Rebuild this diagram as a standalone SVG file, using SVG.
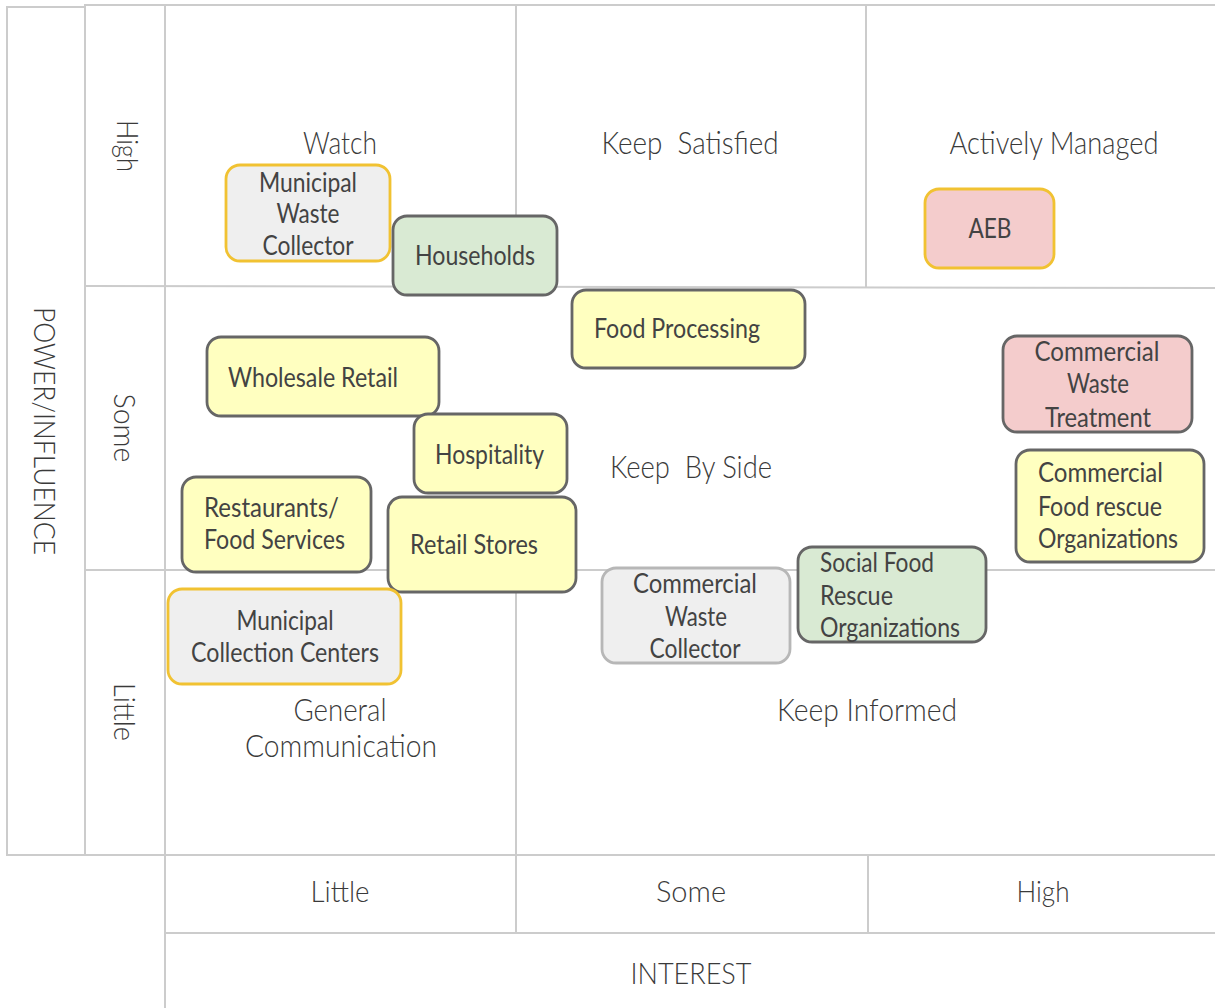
<svg xmlns="http://www.w3.org/2000/svg" width="1215" height="1008" viewBox="0 0 1215 1008">
<style>
.grid{fill:none;stroke:#cccccc;stroke-width:2}
.lbl{font-family:Lato,"Open Sans",sans-serif;font-weight:300;font-size:31px;fill:#3a3a3a;text-anchor:middle}
.ax{font-family:Lato,"Open Sans",sans-serif;font-weight:300;font-size:30px;fill:#3a3a3a;text-anchor:middle}
.nt{font-family:Lato,"Open Sans",sans-serif;font-weight:400;font-size:26px;fill:#434343}
.c{text-anchor:middle}
.box{stroke-width:2.8}
.y{fill:#ffffc0;stroke:#666666}
.g{fill:#d9ead3;stroke:#666666}
.p{fill:#f4cccc;stroke:#666666}
.gy{fill:#efefef;stroke:#f1c232}
.py{fill:#f4cccc;stroke:#f1c232}
.gl{fill:#efefef;stroke:#b7b7b7}
</style>
<rect width="1215" height="1008" fill="#ffffff"/>
<g id="grid">
<rect class="grid" x="7" y="7" width="78" height="848"/>
<rect class="grid" x="85" y="5" width="80" height="850"/>
<rect class="grid" x="165" y="5" width="1052" height="850"/>
<line class="grid" x1="85" y1="286" x2="1215" y2="288"/>
<line class="grid" x1="85" y1="570" x2="1215" y2="570"/>
<line class="grid" x1="516" y1="5" x2="516" y2="288"/>
<line class="grid" x1="866" y1="5" x2="866" y2="288"/>
<line class="grid" x1="516" y1="570" x2="516" y2="855"/>
<line class="grid" x1="165" y1="855" x2="165" y2="1008"/>
<line class="grid" x1="165" y1="933" x2="1215" y2="933"/>
<line class="grid" x1="516" y1="855" x2="516" y2="933"/>
<line class="grid" x1="868" y1="855" x2="868" y2="933"/>
</g>
<g id="labels">
<text class="lbl" x="340" y="154" textLength="74" lengthAdjust="spacingAndGlyphs">Watch</text>
<text class="lbl" x="690" y="154" textLength="177" lengthAdjust="spacingAndGlyphs" xml:space="preserve">Keep  Satisfied</text>
<text class="lbl" x="1054" y="154" textLength="209" lengthAdjust="spacingAndGlyphs">Actively Managed</text>
<text class="lbl" x="691" y="478" textLength="162" lengthAdjust="spacingAndGlyphs" xml:space="preserve">Keep  By Side</text>
<text class="lbl" x="340" y="721" textLength="93" lengthAdjust="spacingAndGlyphs">General</text>
<text class="lbl" x="341" y="757" textLength="192" lengthAdjust="spacingAndGlyphs">Communication</text>
<text class="lbl" x="867" y="721" textLength="180" lengthAdjust="spacingAndGlyphs">Keep Informed</text>
<text class="ax" x="340" y="902" textLength="59" lengthAdjust="spacingAndGlyphs">Little</text>
<text class="ax" x="691" y="902" textLength="70" lengthAdjust="spacingAndGlyphs">Some</text>
<text class="ax" x="1043" y="902" textLength="53" lengthAdjust="spacingAndGlyphs">High</text>
<text class="ax" x="691" y="984" textLength="121" lengthAdjust="spacingAndGlyphs">INTEREST</text>
<text class="ax" transform="translate(117,146) rotate(90)" textLength="52" lengthAdjust="spacingAndGlyphs">High</text>
<text class="ax" transform="translate(114,428) rotate(90)" textLength="69" lengthAdjust="spacingAndGlyphs">Some</text>
<text class="ax" transform="translate(114,712) rotate(90)" textLength="58" lengthAdjust="spacingAndGlyphs">Little</text>
<text class="ax" transform="translate(34,431) rotate(90)" textLength="248" lengthAdjust="spacingAndGlyphs">POWER/INFLUENCE</text>
</g>
<g id="connectors"></g>
<g id="n-municipal-waste-collector">
<rect class="box gy" x="226" y="165" width="164" height="96" rx="14"/>
<text class="nt c" x="308" y="192" textLength="98" lengthAdjust="spacingAndGlyphs">Municipal</text>
<text class="nt c" x="308" y="223" textLength="63" lengthAdjust="spacingAndGlyphs">Waste</text>
<text class="nt c" x="308" y="255" textLength="91" lengthAdjust="spacingAndGlyphs">Collector</text>
</g>
<g id="n-households">
<rect class="box g" x="393" y="216" width="164" height="79" rx="14"/>
<text class="nt c" x="475" y="265" textLength="120" lengthAdjust="spacingAndGlyphs">Households</text>
</g>
<g id="n-food-processing">
<rect class="box y" x="572" y="290" width="233" height="78" rx="14"/>
<text class="nt" x="594" y="338" textLength="166" lengthAdjust="spacingAndGlyphs">Food Processing</text>
</g>
<g id="n-wholesale-retail">
<rect class="box y" x="207" y="337" width="232" height="79" rx="14"/>
<text class="nt" x="228" y="387" textLength="170" lengthAdjust="spacingAndGlyphs">Wholesale Retail</text>
</g>
<g id="n-hospitality">
<rect class="box y" x="414" y="414" width="153" height="79" rx="14"/>
<text class="nt" x="435" y="464" textLength="109" lengthAdjust="spacingAndGlyphs">Hospitality</text>
</g>
<g id="n-restaurants">
<rect class="box y" x="182" y="477" width="189" height="95" rx="14"/>
<text class="nt" x="204" y="517" textLength="135" lengthAdjust="spacingAndGlyphs">Restaurants/</text>
<text class="nt" x="204" y="549" textLength="141" lengthAdjust="spacingAndGlyphs">Food Services</text>
</g>
<g id="n-retail-stores">
<rect class="box y" x="388" y="497" width="188" height="95" rx="14"/>
<text class="nt" x="410" y="554" textLength="128" lengthAdjust="spacingAndGlyphs">Retail Stores</text>
</g>
<g id="n-municipal-collection-centers">
<rect class="box gy" x="168" y="589" width="233" height="95" rx="14"/>
<text class="nt c" x="285" y="630" textLength="97" lengthAdjust="spacingAndGlyphs">Municipal</text>
<text class="nt c" x="285" y="662" textLength="188" lengthAdjust="spacingAndGlyphs">Collection Centers</text>
</g>
<g id="n-commercial-waste-collector">
<rect class="box gl" x="602" y="568" width="188" height="95" rx="14"/>
<text class="nt c" x="695" y="593" textLength="124" lengthAdjust="spacingAndGlyphs">Commercial</text>
<text class="nt c" x="696" y="626" textLength="62" lengthAdjust="spacingAndGlyphs">Waste</text>
<text class="nt c" x="695" y="658" textLength="91" lengthAdjust="spacingAndGlyphs">Collector</text>
</g>
<g id="n-social-food-rescue">
<rect class="box g" x="798" y="547" width="188" height="95" rx="14"/>
<text class="nt" x="820" y="572" textLength="114" lengthAdjust="spacingAndGlyphs">Social Food</text>
<text class="nt" x="820" y="605" textLength="73" lengthAdjust="spacingAndGlyphs">Rescue</text>
<text class="nt" x="820" y="637" textLength="140" lengthAdjust="spacingAndGlyphs">Organizations</text>
</g>
<g id="n-aeb">
<rect class="box py" x="925" y="189" width="129" height="79" rx="14"/>
<text class="nt c" x="990" y="238" textLength="43" lengthAdjust="spacingAndGlyphs">AEB</text>
</g>
<g id="n-commercial-waste-treatment">
<rect class="box p" x="1003" y="336" width="189" height="96" rx="14"/>
<text class="nt c" x="1097" y="361" textLength="125" lengthAdjust="spacingAndGlyphs">Commercial</text>
<text class="nt c" x="1098" y="393" textLength="62" lengthAdjust="spacingAndGlyphs">Waste</text>
<text class="nt c" x="1098" y="427" textLength="106" lengthAdjust="spacingAndGlyphs">Treatment</text>
</g>
<g id="n-commercial-food-rescue">
<rect class="box y" x="1016" y="450" width="188" height="112" rx="14"/>
<text class="nt" x="1038" y="482" textLength="125" lengthAdjust="spacingAndGlyphs">Commercial</text>
<text class="nt" x="1038" y="516" textLength="124" lengthAdjust="spacingAndGlyphs">Food rescue</text>
<text class="nt" x="1038" y="548" textLength="140" lengthAdjust="spacingAndGlyphs">Organizations</text>
</g>
</svg>
